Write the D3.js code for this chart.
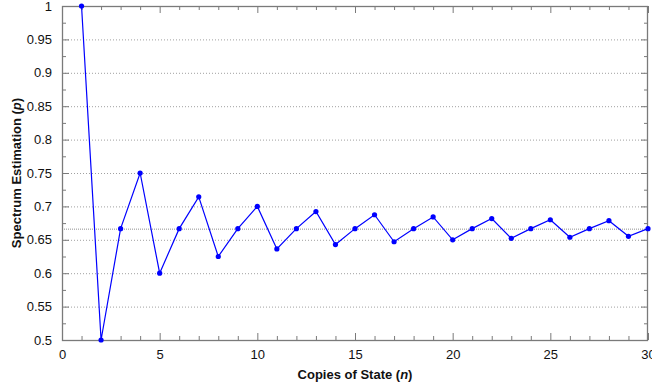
<!DOCTYPE html>
<html><head><meta charset="utf-8">
<script src="https://cdn.jsdelivr.net/npm/d3@7"></script>
<style>body{margin:0;background:#fff}svg{display:block}text{font-family:"Liberation Sans",Arial,sans-serif}</style>
</head><body><svg id="c" width="652" height="389"></svg>
<script>
const copies = [1,2,3,4,5,6,7,8,9,10,11,12,13,14,15,16,17,18,19,20,21,22,23,24,25,26,27,28,29,30];
const estimation = [1,0.5,0.6667,0.75,0.6,0.6667,0.7143,0.625,0.6667,0.7,0.6364,0.6667,0.6923,0.6429,0.6667,0.6875,0.6471,0.6667,0.6842,0.65,0.6667,0.6818,0.6522,0.6667,0.68,0.6538,0.6667,0.6786,0.6552,0.6667];
const xTicks = [0,5,10,15,20,25,30];
const yTicks = [0.5,0.55,0.6,0.65,0.7,0.75,0.8,0.85,0.9,0.95,1];
const refLevel = [0.6667];

const svg = d3.select("#c");
const L=62,R=648,T=6,B=340;
const x = d3.scaleLinear().domain([0,30]).range([L,R]);
const y = d3.scaleLinear().domain([0.5,1]).range([B,T]);
const frame="#7a7a7a";

// grid
svg.append("g").selectAll("line").data(yTicks.filter(v=>v>0.5&&v<1)).join("line")
 .attr("x1",L).attr("x2",R).attr("y1",d=>y(d)+0.5).attr("y2",d=>y(d)+0.5)
 .attr("stroke","#a0a0a0").attr("stroke-dasharray","1,2").attr("stroke-width",1);
svg.append("g").selectAll("line").data(refLevel).join("line")
 .attr("x1",L).attr("x2",R).attr("y1",d=>y(d)+0.5).attr("y2",d=>y(d)+0.5)
 .attr("stroke","#909090").attr("stroke-dasharray","1,1").attr("stroke-width",1);

// axes
const minorX = d3.range(0,31,1).filter(v=>v%5!==0);
const minorY = d3.range(0,21).map(i=>0.5+i*0.025).filter(v=>Math.abs(Math.round(v*20)-v*20)>1e-6);
function ticks(g, axisFn, scale, vals, size, labels){
  const a = axisFn(scale).tickValues(vals).tickSizeInner(-size).tickSizeOuter(0).tickPadding(size+3);
  if(!labels) a.tickFormat("");
  else a.tickFormat(d3.format("~g"));
  g.call(a);
  g.select(".domain").remove();
  g.selectAll("line").attr("stroke",frame);
  g.selectAll("text").attr("font-size",13).attr("fill","#111");
}
ticks(svg.append("g").attr("transform",`translate(0,${B})`), d3.axisBottom, x, xTicks, 7, true);
ticks(svg.append("g").attr("transform",`translate(0,${B})`), d3.axisBottom, x, minorX, 4, false);
ticks(svg.append("g").attr("transform",`translate(0,${T})`), d3.axisTop, x, xTicks, 7, false);
ticks(svg.append("g").attr("transform",`translate(0,${T})`), d3.axisTop, x, minorX, 4, false);
ticks(svg.append("g").attr("transform",`translate(${L},0)`), d3.axisLeft, y, yTicks, 7, true);
ticks(svg.append("g").attr("transform",`translate(${L},0)`), d3.axisLeft, y, minorY, 4, false);
ticks(svg.append("g").attr("transform",`translate(${R},0)`), d3.axisRight, y, yTicks, 7, false);
ticks(svg.append("g").attr("transform",`translate(${R},0)`), d3.axisRight, y, minorY, 4, false);

svg.append("rect").attr("x",L+0.5).attr("y",T+0.5).attr("width",R-L-1).attr("height",B-T)
 .attr("fill","none").attr("stroke",frame).attr("stroke-width",1.3);

// series
const pts = copies.map((c,i)=>[c,estimation[i]]);
svg.append("path").datum(pts).attr("fill","none").attr("stroke","#0000ff").attr("stroke-width",1.2)
 .attr("d",d3.line().x(d=>x(d[0])).y(d=>y(d[1])));
svg.append("g").selectAll("circle").data(pts).join("circle")
 .attr("cx",d=>x(d[0])).attr("cy",d=>y(d[1])).attr("r",2.6).attr("fill","#0000ff");

// labels
const xl = svg.append("text").attr("x",(L+R)/2).attr("y",379).attr("text-anchor","middle")
 .attr("font-size",13).attr("font-weight","bold").attr("fill","#111");
xl.append("tspan").text("Copies of State (");
xl.append("tspan").attr("font-style","italic").text("n");
xl.append("tspan").text(")");
const yl = svg.append("text").attr("transform",`translate(21,${(T+B)/2}) rotate(-90)`).attr("text-anchor","middle")
 .attr("font-size",13).attr("font-weight","bold").attr("fill","#111");
yl.append("tspan").text("Spectrum Estimation (");
yl.append("tspan").attr("font-style","italic").text("p");
yl.append("tspan").text(")");
</script></body></html>
